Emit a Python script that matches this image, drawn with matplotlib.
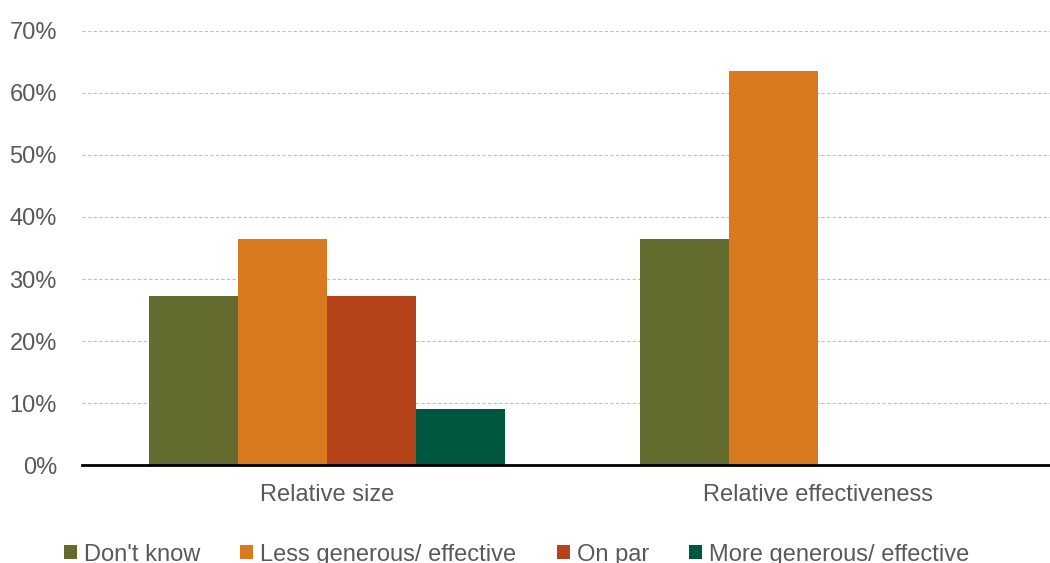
import matplotlib
matplotlib.use("Agg")
import matplotlib.pyplot as plt
import numpy as np
from matplotlib.patches import Patch
from matplotlib.ticker import PercentFormatter

plt.rcParams['font.family'] = ['Liberation Sans', 'DejaVu Sans']

categories = ["Relative size", "Relative effectiveness"]
series_names = ["Don't know", "Less generous/ effective", "On par", "More generous/ effective"]
dont_know = [0.273, 0.364]
less_generous = [0.364, 0.636]
on_par = [0.273, 0.0]
more_generous = [0.091, 0.0]
colors = ["#636b2f", "#d97a20", "#b5431a", "#00573f"]

text_grey = "#595959"
fig = plt.figure(figsize=(10.5, 5.63), dpi=100)
ax = fig.add_axes([0.078, 0.174, 0.935, 0.771])

x = np.arange(len(categories))
width = 0.1813
values = [dont_know, less_generous, on_par, more_generous]
for i, (vals, col) in enumerate(zip(values, colors)):
    ax.bar(x + (i - 1.5) * width, vals, width, color=col, zorder=3)

ax.set_xlim(-0.5, 1.5)
ax.set_ylim(0, 0.7)
ax.set_yticks(np.arange(0, 0.71, 0.1))
ax.yaxis.set_major_formatter(PercentFormatter(1.0, decimals=0))
ax.set_xticks(x)
ax.set_xticklabels(categories)
ax.tick_params(axis='both', length=0, labelsize=17, colors=text_grey)
ax.tick_params(axis='x', pad=14)
ax.tick_params(axis='y', pad=18)

ax.grid(axis='y', color='#bfbfbf', linestyle=(0, (3, 2)), linewidth=0.8, zorder=0)
for side in ['top', 'right', 'left']:
    ax.spines[side].set_visible(False)
ax.spines['bottom'].set_linewidth(2)
ax.spines['bottom'].set_color('black')
ax.spines['bottom'].set_zorder(4)

handles = [Patch(facecolor=c, label=n) for c, n in zip(colors, series_names)]
fig.legend(handles=handles, loc='center', bbox_to_anchor=(0.492, 0.015), ncol=4,
           frameon=False, fontsize=17, labelcolor=text_grey,
           handlelength=0.55, handleheight=0.55, handletextpad=0.3,
           columnspacing=1.7)

fig.savefig("out.png", dpi=100)
